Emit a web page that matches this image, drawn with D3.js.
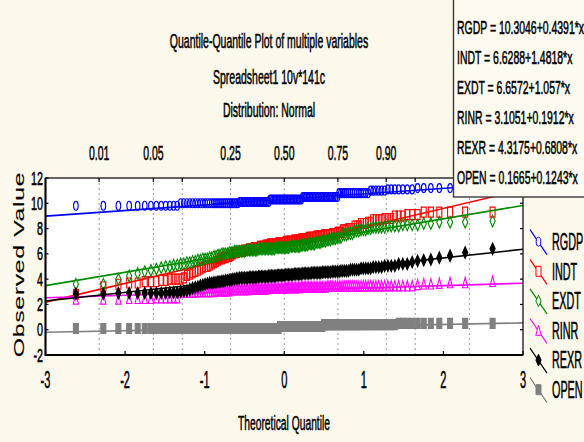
<!DOCTYPE html>
<html>
<head>
<meta charset="utf-8">
<script src="https://cdn.jsdelivr.net/npm/d3@7"></script>
<style>
  html, body { margin: 0; padding: 0; background: #fdf8ec; }
  svg { display: block; font-family: "Liberation Sans", Arial, sans-serif; }
  svg text { stroke: #000; stroke-width: 0.55px; }
  svg text.axis-title { stroke-width: 0.15px; }
</style>
</head>
<body>
<svg id="chart" width="584" height="442"></svg>
<script>
// ---- data ----
const variables = ["RGDP", "INDT", "EXDT", "RINR", "REXR", "OPEN"];
const intercepts = [10.3046, 6.6288, 6.6572, 3.1051, 4.3175, 0.1665];
const slopes = [0.4391, 1.4818, 1.057, 0.1912, 0.6808, 0.1243];
const probTicks = [0.01, 0.05, 0.10, 0.25, 0.50, 0.75, 0.90, 0.95, 0.99];
const probLabels = ["0.01", "0.05", "", "0.25", "0.50", "0.75", "0.90", "", ""];
const xTicks = [-3, -2, -1, 0, 1, 2, 3];
const yTicks = [-2, 0, 2, 4, 6, 8, 10, 12];
const titleLines = ["Quantile-Quantile Plot of multiple variables", "Spreadsheet1 10v*141c", "Distribution: Normal"];

// sorted observations, 141 cases per variable
const rgdp = [
  9.8,9.8,9.8,9.8,9.8, 9.8,9.8,9.8,9.8,9.8, 9.8,9.8,9.8,
  10,10,10,10,10, 10,10,10,10,10, 10,10,10,10,10, 10,10,10,10,10, 10,10,10,10,10, 10,10,
  10.1,10.1,10.1,10.1,10.1, 10.1,10.1,10.1,10.1,10.1, 10.1,10.1,10.1,10.1,10.1, 10.1,10.1,10.1,10.1,10.1,
  10.3,10.3,10.3,10.3,10.3, 10.3,10.3,10.3,10.3,10.3, 10.3,10.3,10.3,10.3,10.3, 10.3,10.3,10.3,10.3,10.3, 10.3,10.3,10.3,
  10.5,10.5,10.5,10.5,10.5, 10.5,10.5,10.5,10.5,10.5, 10.5,10.5,10.5,10.5,10.5, 10.5,10.5,10.5,10.5,10.5, 10.5,10.5,10.5,
  10.8,10.8,10.8,10.8,10.8, 10.8,10.8,10.8,10.8,10.8, 10.8,10.8,10.8,10.8,10.8,
  11,11,11,11,11,11, 11.1,11.1,11.1,11.1,11.1,11.1,11.1, 11.2,11.2,11.2,11.2,11.2, 11.3,11.4
];
const indt = [
  2.8,3.4,3.6,3.7,3.7, 3.8,3.8,3.8,3.9,3.9, 4.0,4.0,4.0,4.0,4.1,
  4.3,4.4,4.5,4.6,4.7, 4.8,4.9,5.0,5.0,5.1,
  5.2,5.3,5.4,5.5,5.6, 5.6,5.7,5.7,5.8,5.8, 5.9,6.0,6.1,6.1,6.2,
  6.2,6.2,6.2,6.3,6.3, 6.3,6.4,6.4,6.4,6.5, 6.5,6.5,6.5,6.6,6.6, 6.6,6.6,6.7,6.7,6.7,
  6.8,6.8,6.8,6.8,6.8,6.8, 6.9,6.9,6.9,6.9,6.9,
  7.0,7.0,7.0,7.0,7.0,7.0, 7.1,7.1,7.1,7.1,7.1,
  7.2,7.2,7.2,7.2,7.2, 7.3,7.3,7.3,7.3,7.3,
  7.4,7.4,7.4,7.4,7.4, 7.5,7.5,7.5,7.5,7.5,
  7.6,7.6,7.6, 7.7,7.7,7.7, 7.9,7.9,7.9,
  8.0,8.0,8.0, 8.2,8.2,8.2, 8.4,8.4,8.4, 8.5,8.5,
  8.7,8.7,8.7,8.7, 8.8,8.8,8.8,
  9.0,9.0,9.0, 9.1,9.1,9.1,
  9.3,9.3,9.3,9.3,9.3,9.3
];
const exdt = [
  3.6,3.6,4.0,4.25,4.45, 4.6,4.7,4.8,4.9,5.0, 5.0,5.1,5.1,5.2,5.2, 5.3,5.3,5.4,5.4,5.5, 5.5,5.6,5.6,5.6,5.7,
  5.7,5.8,5.8,5.9,5.9, 6.0,6.0,6.0,6.0,6.1, 6.1,6.1,6.2,6.2,6.2,
  6.2,6.2,6.2,6.2, 6.3,6.3,6.3,6.3,6.3,6.3,6.3,6.3, 6.4,6.4,6.4,6.4,6.4,6.4,6.4,6.4,
  6.4,6.4,6.4,6.4, 6.5,6.5,6.5,6.5,6.5,6.5,6.5,6.5,6.5,6.5, 6.6,6.6,6.6,6.6,6.6,6.6,6.6,6.6,
  6.7,6.7,6.7,6.7,6.7, 6.8,6.8,6.8,6.8,6.8, 6.9,6.9,6.9,6.9,
  7.0,7.0,7.0, 7.1,7.1,7.1, 7.2,7.2,7.2, 7.3,7.3,7.3, 7.5,7.5,7.5,
  7.6,7.6,7.6, 7.8,7.8,7.8, 7.9,7.9,7.9, 8.0,8.0,
  8.1,8.1,8.1,8.1,8.1, 8.2,8.2,8.2,8.2, 8.3,8.3,8.3,8.3,
  8.4,8.4,8.5,8.5,8.5,8.6
];
const rinr = [
  2.4,2.4,2.4, 2.45,2.45,2.45,2.45, 2.5,2.5,2.5,2.5,2.5,2.5,
  2.95,2.95,2.95,2.95,2.95,2.95, 3.0,3.0,3.0,3.0,3.0,3.0,3.0,3.0, 3.05,3.05,3.05,3.05,3.05,3.05,3.05,3.05,
  3.15,3.15,3.15,3.15,3.15,3.15,3.15,3.15,3.15,3.15,3.15,3.15,
  3.2,3.2,3.2,3.2,3.2,3.2,3.2,3.2,3.2,3.2,3.2,3.2,
  3.25,3.25,3.25,3.25,3.25,3.25,3.25,3.25,3.25,3.25,3.25,3.25,
  3.3,3.3,3.3,3.3,3.3,3.3,3.3,3.3,3.3,3.3,3.3,
  3.35,3.35,3.35,3.35,3.35,3.35,3.35,3.35,3.35,3.35,3.35,3.35,3.35,3.35,3.35,3.35,3.35,
  3.4,3.4,3.4,3.4,3.4,3.4,3.4,3.4,3.4,3.4,3.4,3.4,3.4,3.4,3.4,3.4,3.4,3.4,
  3.45,3.45,3.45,3.45,3.45,3.45,3.45,3.45,3.45,3.45,3.45,3.45,3.45,3.45,3.45,3.45,3.45,
  3.55,3.6,3.6,3.65,3.7,3.7,3.8
];
const rexr = [
  2.85,2.85,2.9,2.9,2.9, 2.9,2.9,2.9,2.9,2.9, 2.95,2.95,2.95,3.0,
  3.05,3.1,3.2,3.3,3.35, 3.4,3.5,3.55,3.6,3.65, 3.7,
  3.7,3.75,3.75,3.8,3.8, 3.85,3.85,3.9,3.9,3.95, 3.95,4.0,4.0,4.05,4.05,
  4.1,4.1,4.1,4.1,4.1,4.1, 4.15,4.15,4.15,4.15,4.15,4.15, 4.2,4.2,4.2,4.2,4.2,4.2,4.2,
  4.25,4.25,4.25,4.25,4.25,4.25, 4.3,4.3,4.3,4.3,4.3,4.3,
  4.35,4.35,4.35,4.35,4.35,4.35, 4.4,4.4,4.4,4.4,4.4,4.4, 4.45,4.45,4.45,4.45,4.45,4.45,
  4.5,4.5,4.5,4.5,4.5,4.5,4.5, 4.55,4.55,4.55,4.55,4.55,4.55,
  4.6,4.6,4.6,4.6,4.6, 4.65,4.65,4.65,4.65,4.65, 4.75,4.75,4.75,4.75,4.75, 4.85,4.85,4.85,4.85,4.85,
  4.95,4.95,4.95,4.95, 5.05,5.05,5.05,5.05, 5.2,5.2,5.2,
  5.35,5.45,5.5,5.55,5.7,5.85,6.1,6.4
];
const open = [
  0.1,0.1,0.1,0.1,0.1,0.1,0.1,0.1,0.1,0.1, 0.1,0.1,0.1,0.1,0.1,0.1,0.1,0.1,0.1,0.1,
  0.1,0.1,0.1,0.1,0.1,0.1,0.1,0.1,0.1,0.1, 0.1,0.1,0.1,0.1,0.1,0.1,0.1,0.1,0.1,0.1,
  0.1,0.1,0.1,0.1,0.1,0.1,0.1,0.1,0.1,0.1, 0.1,0.1,0.1,0.1,0.1,0.1,0.1,0.1,0.1,0.1,
  0.1,0.1,0.1,0.1,0.1,0.1,0.1,
  0.25,0.25,0.25,0.25,0.25,0.25,0.25,0.25,0.25,0.25, 0.25,0.25,0.25,0.25,0.25,0.25,0.25,0.25,0.25,0.25,
  0.25,0.25,0.25,0.25,0.25,0.25,0.25,0.25,0.25,0.25,
  0.4,0.4,0.4,0.4,0.4,0.4,0.4,0.4,0.4,0.4, 0.4,0.4,0.4,0.4,0.4,0.4,0.4,0.4,0.4,0.4,
  0.4,0.4,0.4,0.4,0.4,0.4,0.4,0.4,0.4,0.4, 0.4,0.4,0.4,
  0.5,0.5,0.5,0.5,0.5,0.5,0.5,0.5,0.5,0.5,0.5
];
const observations = [rgdp, indt, exdt, rinr, rexr, open];

// ---- styling per variable ----
const colors = ["#0000ff", "#ff0000", "#008a00", "#ff00ff", "#000000", "#808080"];
const shapes = ["circle", "square", "diamond", "triangle", "fdiamond", "fsquare"];

// inverse of the standard normal CDF (Acklam's rational approximation)
function qnorm(p) {
  const a = [-3.969683028665376e+01, 2.209460984245205e+02, -2.759285104469687e+02, 1.383577518672690e+02, -3.066479806614716e+01, 2.506628277459239e+00];
  const b = [-5.447609879822406e+01, 1.615858368580409e+02, -1.556989798598866e+02, 6.680131188771972e+01, -1.328068155288572e+01];
  const c = [-7.784894002430293e-03, -3.223964580411365e-01, -2.400758277161838e+00, -2.549671348133585e+00, 4.374664141464968e+00, 2.938163982698783e+00];
  const d = [7.784695709041462e-03, 3.224671290700398e-01, 2.445134137142996e+00, 3.754408661907416e+00];
  const pl = 0.02425;
  if (p < pl) {
    const q = Math.sqrt(-2 * Math.log(p));
    return (((((c[0]*q+c[1])*q+c[2])*q+c[3])*q+c[4])*q+c[5]) / ((((d[0]*q+d[1])*q+d[2])*q+d[3])*q+1);
  }
  if (p <= 1 - pl) {
    const q = p - 0.5, r = q * q;
    return (((((a[0]*r+a[1])*r+a[2])*r+a[3])*r+a[4])*r+a[5])*q / (((((b[0]*r+b[1])*r+b[2])*r+b[3])*r+b[4])*r+1);
  }
  const q = Math.sqrt(-2 * Math.log(1 - p));
  return -(((((c[0]*q+c[1])*q+c[2])*q+c[3])*q+c[4])*q+c[5]) / ((((d[0]*q+d[1])*q+d[2])*q+d[3])*q+1);
}

// marker outlines, drawn tall and narrow
function markerPath(shape) {
  switch (shape) {
    case "circle": return "M0,-4.5 A2.3,4.5 0 1,1 0,4.5 A2.3,4.5 0 1,1 0,-4.5 Z";
    case "square": case "fsquare": return "M-2.5,-5 L2.5,-5 L2.5,5 L-2.5,5 Z";
    case "diamond": case "fdiamond": return "M0,-5.8 L2.6,0 L0,5.8 L-2.6,0 Z";
    case "triangle": return "M0,-5.5 L2.7,4.8 L-2.7,4.8 Z";
  }
}
const filled = s => s === "fdiamond" || s === "fsquare";

// ---- scales ----
const svg = d3.select("#chart");
const plot = { left: 45.5, right: 523, top: 178, bottom: 355 };
const x = d3.scaleLinear().domain([-3, 3]).range([plot.left, plot.right]);
const y = d3.scaleLinear().domain([-2, 12]).range([plot.bottom, plot.top]);

// condensed text helper
function label(parent, str, px, py, size, sx, anchor) {
  return parent.append("text")
    .attr("transform", `translate(${px},${py}) scale(${sx},1)`)
    .attr("font-size", size)
    .attr("text-anchor", anchor || "middle")
    .attr("fill", "#000")
    .text(str);
}

// ---- titles ----
label(svg, titleLines[0], 269, 48, 20, 0.525);
label(svg, titleLines[1], 269, 83.5, 20, 0.525);
label(svg, titleLines[2], 269, 116.5, 20, 0.525);

// probability labels above the plot
probTicks.forEach((p, i) => {
  if (probLabels[i]) label(svg, probLabels[i], x(qnorm(p)), 160, 21, 0.5);
});

// ---- plot area ----
svg.append("rect").attr("x", plot.left).attr("y", plot.top)
  .attr("width", plot.right - plot.left).attr("height", plot.bottom - plot.top)
  .attr("fill", "#ffffff");

svg.append("clipPath").attr("id", "plotClip").append("rect")
  .attr("x", plot.left).attr("y", plot.top)
  .attr("width", plot.right - plot.left).attr("height", plot.bottom - plot.top);

// dotted probability grid
svg.append("g").selectAll("line").data(probTicks).join("line")
  .attr("x1", d => x(qnorm(d))).attr("x2", d => x(qnorm(d)))
  .attr("y1", plot.top).attr("y2", plot.bottom)
  .attr("stroke", "#9a9a9a").attr("stroke-width", 1).attr("stroke-dasharray", "2,3");

const layer = svg.append("g").attr("clip-path", "url(#plotClip)");

variables.forEach((name, k) => {
  const vals = observations[k];
  const n = vals.length;
  const pts = vals.map((v, i) => ({ q: qnorm((i + 1 - 0.375) / (n + 0.25)), v }));
  // fitted line
  layer.append("line")
    .attr("x1", x(-3)).attr("y1", y(intercepts[k] + slopes[k] * -3))
    .attr("x2", x(3)).attr("y2", y(intercepts[k] + slopes[k] * 3))
    .attr("stroke", colors[k]).attr("stroke-width", 1.6);
  // observations
  layer.append("g").selectAll("path").data(pts).join("path")
    .attr("d", markerPath(shapes[k]))
    .attr("transform", d => `translate(${x(d.q)},${y(d.v)})`)
    .attr("fill", filled(shapes[k]) ? colors[k] : "none")
    .attr("stroke", colors[k]).attr("stroke-width", 1.1);
});

// ---- frame and ticks ----
svg.append("rect").attr("x", plot.left).attr("y", plot.top)
  .attr("width", plot.right - plot.left).attr("height", plot.bottom - plot.top)
  .attr("fill", "none").attr("stroke", "#000").attr("stroke-width", 1.2);
svg.append("line").attr("x1", plot.left).attr("x2", plot.left).attr("y1", plot.top).attr("y2", plot.bottom + 0.6)
  .attr("stroke", "#000").attr("stroke-width", 2);
svg.append("line").attr("x1", plot.left).attr("x2", plot.right).attr("y1", plot.bottom).attr("y2", plot.bottom)
  .attr("stroke", "#000").attr("stroke-width", 2);

const ticks = svg.append("g").attr("stroke", "#000").attr("stroke-width", 1.2);
yTicks.forEach(t => {
  ticks.append("line").attr("x1", plot.left).attr("x2", plot.left + 3).attr("y1", y(t)).attr("y2", y(t));
  ticks.append("line").attr("x1", plot.right).attr("x2", plot.right - 3).attr("y1", y(t)).attr("y2", y(t));
  label(svg, t, 43, y(t) + 6.5, 18.5, 0.58, "end");
});
xTicks.forEach(t => {
  ticks.append("line").attr("x1", x(t)).attr("x2", x(t)).attr("y1", plot.bottom).attr("y2", plot.bottom - 4);
  label(svg, t, x(t), 388, 23, 0.48);
});
probTicks.forEach(p => {
  ticks.append("line").attr("x1", x(qnorm(p))).attr("x2", x(qnorm(p))).attr("y1", plot.top).attr("y2", plot.top + 4);
});

// axis titles
label(svg, "Theoretical Quantile", 284, 430, 21, 0.49);
svg.append("text").attr("class", "axis-title")
  .attr("transform", "translate(23.5,264.5) rotate(-90) scale(1.08,0.62)")
  .attr("font-size", 23).attr("text-anchor", "middle").attr("fill", "#000")
  .attr("letter-spacing", 0.6)
  .text("Observed Value");

// ---- fit equations ----
const eq = svg.append("g");
eq.append("rect").attr("x", 453.5).attr("y", -4).attr("width", 140).attr("height", 201)
  .attr("fill", "#fffbf0").attr("stroke", "#3a3a3a").attr("stroke-width", 1.4);
variables.forEach((name, k) => {
  label(eq, `${name} = ${intercepts[k]}+${slopes[k]}*x`, 457, 34 + k * 30, 18.5, 0.565, "start");
});

// ---- legend ----
const legend = svg.append("g");
variables.forEach((name, k) => {
  const cy = 241.7 + k * 29.6;
  legend.append("line").attr("x1", 530).attr("y1", cy - 12).attr("x2", 547).attr("y2", cy + 13)
    .attr("stroke", colors[k]).attr("stroke-width", 1.2);
  legend.append("path").attr("d", markerPath(shapes[k]))
    .attr("transform", `translate(538.5,${cy})`)
    .attr("fill", filled(shapes[k]) ? colors[k] : "#fdf8ec")
    .attr("stroke", colors[k]).attr("stroke-width", 1);
  label(legend, name, 552, cy + 8.3, 23, 0.47, "start");
});
</script>
</body>
</html>
